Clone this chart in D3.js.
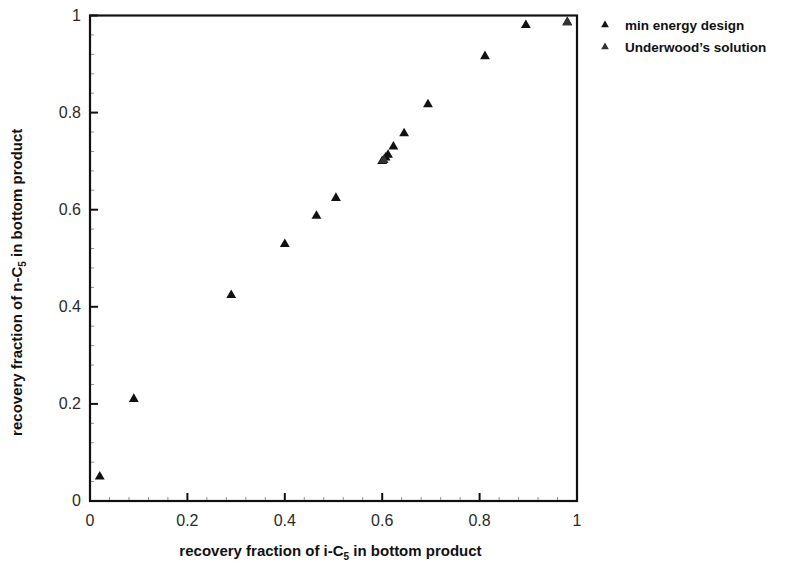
<!DOCTYPE html>
<html>
<head>
<meta charset="utf-8">
<script src="https://cdn.jsdelivr.net/npm/d3@7"></script>
<style>
  html, body { margin: 0; padding: 0; background: #ffffff; }
  svg { display: block; }
  .tick-label { font-family: "Liberation Sans", Arial, sans-serif; font-size: 16px; fill: #2a2a2a; }
  .axis-title { font-family: "Liberation Sans Narrow", "Arial Narrow", "Liberation Sans", sans-serif; font-weight: bold; font-size: 15px; fill: #111; }
  .legend-text { font-family: "Liberation Sans Narrow", "Arial Narrow", "Liberation Sans", sans-serif; font-weight: bold; font-size: 13.5px; fill: #111; }
</style>
</head>
<body>
<svg id="chart" width="790" height="567"></svg>
<script>
// Recovery fractions of i-C5 (x) and n-C5 (y) in the bottom product
const minEnergyX = [0.02, 0.09, 0.29, 0.40, 0.465, 0.505, 0.600, 0.607, 0.612, 0.623, 0.645, 0.694, 0.811, 0.895, 0.980];
const minEnergyY = [0.05, 0.21, 0.424, 0.529, 0.587, 0.624, 0.700, 0.707, 0.713, 0.730, 0.757, 0.817, 0.916, 0.980, 0.986];
const underwoodX = [0.603, 0.980];
const underwoodY = [0.702, 0.986];

const xTicks = [0, 0.2, 0.4, 0.6, 0.8, 1];
const yTicks = [0, 0.2, 0.4, 0.6, 0.8, 1];
const xTickLabels = ["0", "0.2", "0.4", "0.6", "0.8", "1"];
const yTickLabels = ["0", "0.2", "0.4", "0.6", "0.8", "1"];
const seriesNames = ["min energy design", "Underwood\u2019s solution"];
const seriesColors = ["#111111", "#333333"];

const svg = d3.select("#chart");
const plotLeft = 90, plotRight = 577, plotTop = 15.5, plotBottom = 501;

const x = d3.scaleLinear().domain([0, 1]).range([plotLeft, plotRight]);
const y = d3.scaleLinear().domain([0, 1]).range([plotBottom, plotTop]);

// minor ticks (5 subdivisions per major interval), drawn inward
const minor = d3.range(0, 1.0001, 0.04).filter(v => Math.abs(v * 5 - Math.round(v * 5)) > 1e-6);

const g = svg.append("g");

// x-axis ticks on the bottom edge
g.selectAll(".xmaj").data(xTicks).join("line")
  .attr("x1", d => x(d)).attr("x2", d => x(d))
  .attr("y1", plotBottom).attr("y2", plotBottom - 8)
  .attr("stroke", "#111").attr("stroke-width", 2);
g.selectAll(".xmin").data(minor).join("line")
  .attr("x1", d => x(d)).attr("x2", d => x(d))
  .attr("y1", plotBottom).attr("y2", plotBottom - 4)
  .attr("stroke", "#777").attr("stroke-width", 0.8);

// y-axis ticks on the left edge
g.selectAll(".ymaj").data(yTicks).join("line")
  .attr("y1", d => y(d)).attr("y2", d => y(d))
  .attr("x1", plotLeft).attr("x2", plotLeft + 8)
  .attr("stroke", "#111").attr("stroke-width", 2);
g.selectAll(".ymin").data(minor).join("line")
  .attr("y1", d => y(d)).attr("y2", d => y(d))
  .attr("x1", plotLeft).attr("x2", plotLeft + 4)
  .attr("stroke", "#777").attr("stroke-width", 0.8);

// frame
g.append("rect")
  .attr("x", plotLeft).attr("y", plotTop)
  .attr("width", plotRight - plotLeft).attr("height", plotBottom - plotTop)
  .attr("fill", "none").attr("stroke", "#111").attr("stroke-width", 2.2);

// tick labels
g.selectAll(".xl").data(xTicks).join("text")
  .attr("class", "tick-label")
  .attr("x", d => x(d)).attr("y", plotBottom + 25)
  .attr("text-anchor", "middle")
  .text((d, i) => xTickLabels[i]);
g.selectAll(".yl").data(yTicks).join("text")
  .attr("class", "tick-label")
  .attr("x", plotLeft - 9).attr("y", d => y(d) + 5)
  .attr("text-anchor", "end")
  .text((d, i) => yTickLabels[i]);

// axis titles with subscript 5
const xt = g.append("text").attr("class", "axis-title")
  .attr("x", (plotLeft + plotRight) / 2 - 3).attr("y", 556).attr("text-anchor", "middle");
xt.append("tspan").text("recovery fraction of i-C");
xt.append("tspan").attr("dy", 4).attr("font-size", 10).text("5");
xt.append("tspan").attr("dy", -4).text(" in bottom product");

const yt = g.append("text").attr("class", "axis-title")
  .attr("transform", `translate(22, ${(plotTop + plotBottom) / 2 + 24}) rotate(-90)`)
  .attr("text-anchor", "middle");
yt.append("tspan").text("recovery fraction of n-C");
yt.append("tspan").attr("dy", 4).attr("font-size", 10).text("5");
yt.append("tspan").attr("dy", -4).text(" in bottom product");

// markers
const tri = d3.symbol().type(d3.symbolTriangle).size(42);
const series = [
  { xs: minEnergyX, ys: minEnergyY, color: seriesColors[0] },
  { xs: underwoodX, ys: underwoodY, color: seriesColors[1] }
];
series.forEach(s => {
  g.append("g").selectAll("path")
    .data(s.xs.map((v, i) => [v, s.ys[i]]))
    .join("path")
    .attr("d", tri)
    .attr("transform", d => `translate(${x(d[0])},${y(d[1])})`)
    .attr("fill", s.color);
});

// legend
const legend = g.append("g").attr("transform", "translate(605, 25)");
seriesNames.forEach((name, i) => {
  const row = legend.append("g").attr("transform", `translate(0, ${i * 22})`);
  row.append("path").attr("d", d3.symbol().type(d3.symbolTriangle).size(26))
    .attr("fill", seriesColors[i]);
  row.append("text").attr("class", "legend-text")
    .attr("x", 20).attr("y", 5).text(name);
});
</script>
</body>
</html>
